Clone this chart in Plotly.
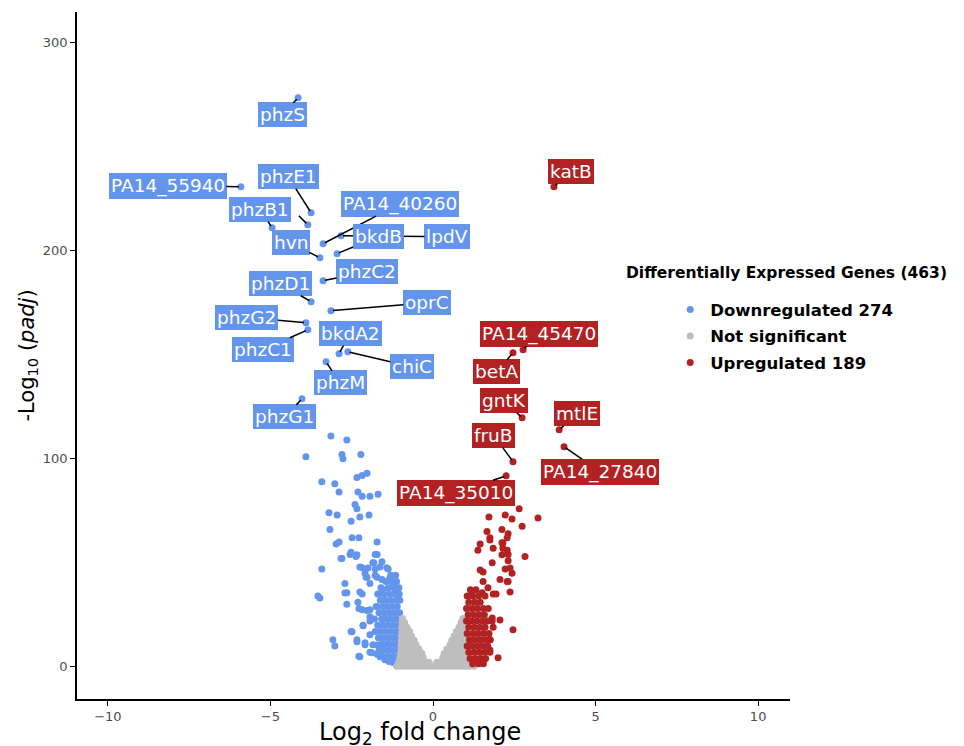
import plotly.graph_objects as go

# ---------------- data ----------------
# labelled genes: name, log2FC, -log10(padj), label offset (px)
down_labels = ["phzS", "PA14_55940", "phzE1", "phzB1", "hvn", "PA14_40260", "lpdV", "bkdB",
               "phzC2", "phzD1", "oprC", "phzG2", "phzC1", "bkdA2", "chiC", "phzM", "phzG1"]
down_lfc = [-4.15, -5.91, -3.75, -4.95, -3.48, -3.38, -2.83, -2.95,
            -3.38, -3.75, -3.14, -3.91, -3.85, -2.89, -2.62, -3.29, -4.03]
down_padj = [273.6, 230.8, 218.3, 211.1, 196.6, 203.4, 207.2, 198.6,
             185.6, 175.5, 171.2, 165.4, 162.0, 150.5, 151.4, 146.6, 128.8]
down_ax = [-16, -73, -23, -12, -29, 77, 106, 41, 44, -31, 96, -59, -45, 11, 64, 14, -17]
down_ay = [17, -1, -36, -18, -15, -40, 1, -17, -9, -18, -8, -5, 20, -20, 15, 21, 18]

up_labels = ["katB", "PA14_45470", "betA", "gntK", "mtlE", "PA14_27840", "fruB", "PA14_35010"]
up_lfc = [3.72, 2.77, 2.46, 2.74, 3.88, 4.03, 2.46, 2.25]
up_padj = [230.8, 152.4, 151.0, 119.7, 113.9, 105.8, 98.6, 91.8]
up_ax = [17, 16, -16, -18, 18, 36, -19, -50]
up_ay = [-15, -16, 19, -17, -16, 25, -26, 17]

# other downregulated genes (scattered)
down_x = [-3.85, -3.14, -2.65, -3.91, -2.80, -2.77, -2.22, -3.42, -3.02, -2.89, -2.34, -2.18, -2.03,
          -2.31, -2.18, -1.94, -1.69, -2.40, -2.34, -3.20, -2.95, -2.52, -2.25, -1.97, -3.17,
          -2.49, -2.28, -2.98, -2.89, -1.72, -2.52, -2.37, -2.55, -2.83, -1.72, -3.42, -2.25,
          -2.00, -1.82, -1.63, -1.38, -2.06, -1.78, -1.23, -2.71, -2.25, -2.71, -3.54, -3.48,
          -2.65, -2.28, -2.03, -1.94, -2.15, -1.94, -2.52, -3.08, -3.02, -2.34, -2.09, -1.72,
          -1.94, -1.72, -2.28, -1.45, -1.23, -2.34, -1.78, -1.85, -1.57, -2.18, -2.09, -1.78,
          -1.42, -1.32, -2.03, -1.72, -1.57, -2.65, -2.18, -1.94, -1.54, -1.23, -1.17, -2.31,
          -2.18, -1.94, -1.72, -2.49, -2.15, -2.34, -2.09, -2.25, -1.88, -1.85, -1.63, -1.48,
          -1.94, -1.17, -2.80]
down_y = [212.5, 111.0, 109.0, 101.0, 102.0, 100.0, 102.0, 89.0, 88.0, 84.0, 91.0, 92.0, 93.0,
          84.0, 82.0, 82.0, 83.0, 78.0, 76.0, 74.0, 73.0, 70.0, 72.0, 73.0, 66.0,
          62.0, 62.0, 59.0, 60.0, 60.0, 55.0, 53.0, 54.0, 52.0, 54.0, 47.0, 48.0,
          47.5, 50.0, 48.0, 47.0, 43.0, 44.0, 41.0, 40.0, 36.0, 35.5, 34.0, 33.0,
          30.0, 28.0, 27.0, 24.0, 20.0, 22.0, 17.0, 13.0, 10.0, 12.0, 11.5, 10.5,
          7.0, 6.0, 5.0, 4.5, 2.0, 53.8, 54.0, 50.0, 50.5, 47.6, 45.0, 47.0,
          47.6, 43.0, 43.0, 43.0, 42.0, 35.6, 35.0, 40.0, 37.0, 40.0, 37.0, 31.0,
          27.4, 27.4, 28.8, 16.8, 19.7, 13.0, 10.6, 4.8, 6.7, 10.6, 4.8, 3.4,
          15.4, 2.0, 52.0]

# dense downregulated block, rows of (padj, [log2FC ...])
down_rows = [
    (44.0, [-1.30, -1.15]),
    (41.0, [-1.45, -1.28, -1.12]),
    (38.0, [-1.60, -1.38, -1.20, -1.05]),
    (35.0, [-1.70, -1.52, -1.35, -1.18, -1.04]),
    (32.0, [-1.62, -1.47, -1.30, -1.13, -1.02]),
    (29.0, [-1.75, -1.55, -1.40, -1.25, -1.10]),
    (26.0, [-1.66, -1.50, -1.34, -1.19, -1.03]),
    (23.0, [-1.80, -1.58, -1.43, -1.28, -1.12]),
    (20.0, [-1.70, -1.54, -1.38, -1.22, -1.06]),
    (17.0, [-1.78, -1.62, -1.46, -1.30, -1.14, -1.01]),
    (14.0, [-1.68, -1.52, -1.36, -1.20, -1.05]),
    (11.0, [-1.58, -1.42, -1.27, -1.11]),
    (8.0, [-1.66, -1.50, -1.34, -1.18, -1.03]),
    (5.0, [-1.55, -1.39, -1.24, -1.08]),
    (2.5, [-1.35, -1.15, -1.02]),
]

# other upregulated genes (scattered)
up_x = [2.65, 3.23, 1.72, 2.22, 2.43, 2.74, 1.66, 1.75, 2.12, 2.31, 2.28, 1.45, 1.85, 2.15,
        2.28, 2.31, 1.38, 2.83, 1.82, 2.31, 1.45, 1.54, 2.37, 2.43, 2.06, 2.31, 1.69, 1.94,
        2.37, 2.06, 2.46, 2.00, 1.75, 2.12, 2.15, 2.12, 2.22, 1.54, 2.28, 1.20, 1.51, 1.85,
        1.75, 1.75, 1.82, 1.85]
up_y = [76.0, 71.5, 72.0, 73.0, 71.0, 67.5, 65.0, 62.0, 66.0, 64.0, 62.0, 59.0, 57.0, 59.5,
        56.0, 54.0, 56.0, 53.0, 50.0, 51.0, 46.5, 45.5, 47.5, 45.0, 42.0, 41.0, 38.0, 35.0,
        36.0, 22.5, 17.8, 4.3, 61.0, 59.6, 57.0, 53.8, 47.0, 41.0, 41.0, 36.0, 35.6, 35.0,
        13.0, 8.0, 23.5, 19.0]

up_rows = [
    (37.0, [1.15, 1.32]),
    (34.0, [1.05, 1.22, 1.40, 1.60]),
    (31.0, [1.10, 1.28, 1.45]),
    (28.0, [1.03, 1.20, 1.37, 1.55, 1.70]),
    (25.0, [1.08, 1.25, 1.42, 1.58]),
    (22.0, [1.03, 1.18, 1.35, 1.52, 1.68, 1.82]),
    (19.0, [1.10, 1.27, 1.44, 1.60]),
    (16.0, [1.05, 1.22, 1.38, 1.55, 1.72]),
    (13.0, [1.12, 1.28, 1.45, 1.62, 1.76]),
    (10.0, [1.05, 1.20, 1.36, 1.52, 1.68]),
    (7.0, [1.10, 1.26, 1.42, 1.58, 1.75]),
    (4.0, [1.14, 1.30, 1.46, 1.62]),
    (1.5, [1.22, 1.40, 1.55]),
]

# not significant genes, rows of (padj, [log2FC ...])
ns_rows = [
    (0.3, [-1.12, -1.00, -0.88, -0.76, -0.64, -0.52, -0.40, -0.28, -0.16, -0.05, 0.06, 0.17,
           0.28, 0.40, 0.52, 0.64, 0.76, 0.88, 1.00, 1.12, 1.26]),
    (2.2, [-1.06, -0.94, -0.82, -0.70, -0.58, -0.46, -0.34, -0.22, -0.12, 0.12, 0.22, 0.34,
           0.46, 0.58, 0.70, 0.82, 0.94, 1.06, 1.18]),
    (4.3, [-1.02, -0.90, -0.78, -0.66, -0.54, -0.42, -0.30, 0.30, 0.42, 0.54, 0.66, 0.78,
           0.90, 1.02]),
    (6.4, [-1.00, -0.88, -0.76, -0.64, -0.52, -0.40, -0.34, 0.34, 0.40, 0.52, 0.64, 0.76,
           0.88, 1.00]),
    (8.5, [-0.98, -0.86, -0.74, -0.62, -0.50, -0.43, 0.43, 0.52, 0.64, 0.76, 0.88, 0.98]),
    (10.6, [-0.98, -0.86, -0.74, -0.62, -0.52, 0.52, 0.62, 0.74, 0.86, 0.97]),
    (12.7, [-0.97, -0.86, -0.75, -0.64, -0.58, 0.58, 0.66, 0.77, 0.88, 0.97]),
    (14.8, [-0.97, -0.86, -0.75, -0.66, 0.65, 0.75, 0.86, 0.96]),
    (16.9, [-0.96, -0.86, -0.76, -0.72, 0.72, 0.82, 0.92]),
    (19.0, [-0.96, -0.87, -0.80, 0.80, 0.88, 0.95]),
    (21.1, [-0.95, -0.87, 0.86, 0.94]),
    (23.2, [-0.94, 0.92]),
]

x_ticks = [-10, -5, 0, 5, 10]
y_ticks = [0, 100, 200, 300]

BLUE = "#6495ED"
GREY = "#BEBEBE"
RED = "#B22222"
FONT = "DejaVu Sans"


def flatten(rows):
    xs, ys = [], []
    for yv, xlist in rows:
        for xv in xlist:
            xs.append(xv)
            ys.append(yv)
    return xs, ys


dx, dy = flatten(down_rows)
ux, uy = flatten(up_rows)
nx, ny = flatten(ns_rows)

all_dx = down_x + dx + down_lfc
all_dy = down_y + dy + down_padj
all_ux = up_x + ux + up_lfc
all_uy = up_y + uy + up_padj

fig = go.Figure()
fig.add_trace(go.Scatter(x=all_dx, y=all_dy, mode="markers", name="<b>Downregulated 274</b>",
                         marker=dict(color=BLUE, size=7), legendgroup="a"))
fig.add_trace(go.Scatter(x=nx, y=ny, mode="markers", name="<b>Not significant</b>",
                         marker=dict(color=GREY, size=7), legendgroup="b"))
fig.add_trace(go.Scatter(x=all_ux, y=all_uy, mode="markers", name="<b>Upregulated 189</b>",
                         marker=dict(color=RED, size=7), legendgroup="c"))

annotations = []


def add_label(name, xv, yv, ax, ay, color):
    annotations.append(dict(
        x=xv, y=yv, xref="x", yref="y", text=name, showarrow=True,
        ax=ax, ay=ay, axref="pixel", ayref="pixel",
        arrowhead=0, arrowwidth=1.5, arrowcolor="black", standoff=2,
        bgcolor=color, bordercolor=color, borderpad=1,
        font=dict(family=FONT, size=18.5, color="white"),
    ))


for n, xv, yv, ax, ay in zip(down_labels, down_lfc, down_padj, down_ax, down_ay):
    add_label(n, xv, yv, ax, ay, BLUE)
# extra segment under the phzB1 label
annotations.insert(4, dict(x=down_x[0], y=down_y[0], xref="x", yref="y", text=" ",
                           showarrow=True, ax=-11, ay=-11, axref="pixel", ayref="pixel",
                           arrowhead=0, arrowwidth=1.5, arrowcolor="black", standoff=2,
                           font=dict(size=2)))
for n, xv, yv, ax, ay in zip(up_labels, up_lfc, up_padj, up_ax, up_ay):
    add_label(n, xv, yv, ax, ay, RED)

# legend title drawn as text above the legend
annotations.append(dict(
    x=0.767, y=0.620, xref="paper", yref="paper", xanchor="left", yanchor="middle",
    text="<b>Differentially Expressed Genes (463)</b>", showarrow=False,
    font=dict(family=FONT, size=15.5, color="black"),
))
# axis titles
annotations.append(dict(
    x=0.481, y=-0.050, xref="paper", yref="paper", xanchor="center", yanchor="middle",
    text="Log<sub>2</sub> fold change", showarrow=False,
    font=dict(family=FONT, size=24, color="black"),
))
annotations.append(dict(
    x=-0.070, y=0.5, xref="paper", yref="paper", xanchor="center", yanchor="middle",
    text="-Log<sub>10</sub> (<i>padj</i>)", showarrow=False, textangle=-90,
    font=dict(family=FONT, size=21, color="black"),
))

fig.update_layout(
    width=964, height=746,
    margin=dict(l=77, r=174, t=12, b=47),
    paper_bgcolor="white", plot_bgcolor="white",
    font=dict(family=FONT, color="black"),
    annotations=annotations,
    showlegend=True,
    legend=dict(
        font=dict(family=FONT, size=16.5, color="black"),
        x=0.832, y=0.592, xanchor="left", yanchor="top",
        bgcolor="rgba(0,0,0,0)", tracegroupgap=2,
    ),
    xaxis=dict(
        range=[-10.95, 10.98], tickvals=x_ticks, automargin=False,
        ticktext=["\u221210", "\u22125", "0", "5", "10"],
        showgrid=False, zeroline=False, showline=True, linecolor="black", linewidth=1.6,
        ticks="outside", ticklen=5, tickcolor="black", tickwidth=1.2,
        tickfont=dict(family=FONT, size=13, color="#4D4D4D"),
    ),
    yaxis=dict(
        range=[-15.5, 314.8], tickvals=y_ticks, automargin=False,
        showgrid=False, zeroline=False, showline=True, linecolor="black", linewidth=1.6,
        ticks="outside", ticklen=5, tickcolor="black", tickwidth=1.2,
        tickfont=dict(family=FONT, size=13, color="#4D4D4D"),
    ),
)

# remove the default page margin so the figure sits at the window's top-left corner
fig.write_html("out.html", config={"displayModeBar": False},
               post_script="document.body.style.margin='0';document.body.style.overflow='hidden';")
